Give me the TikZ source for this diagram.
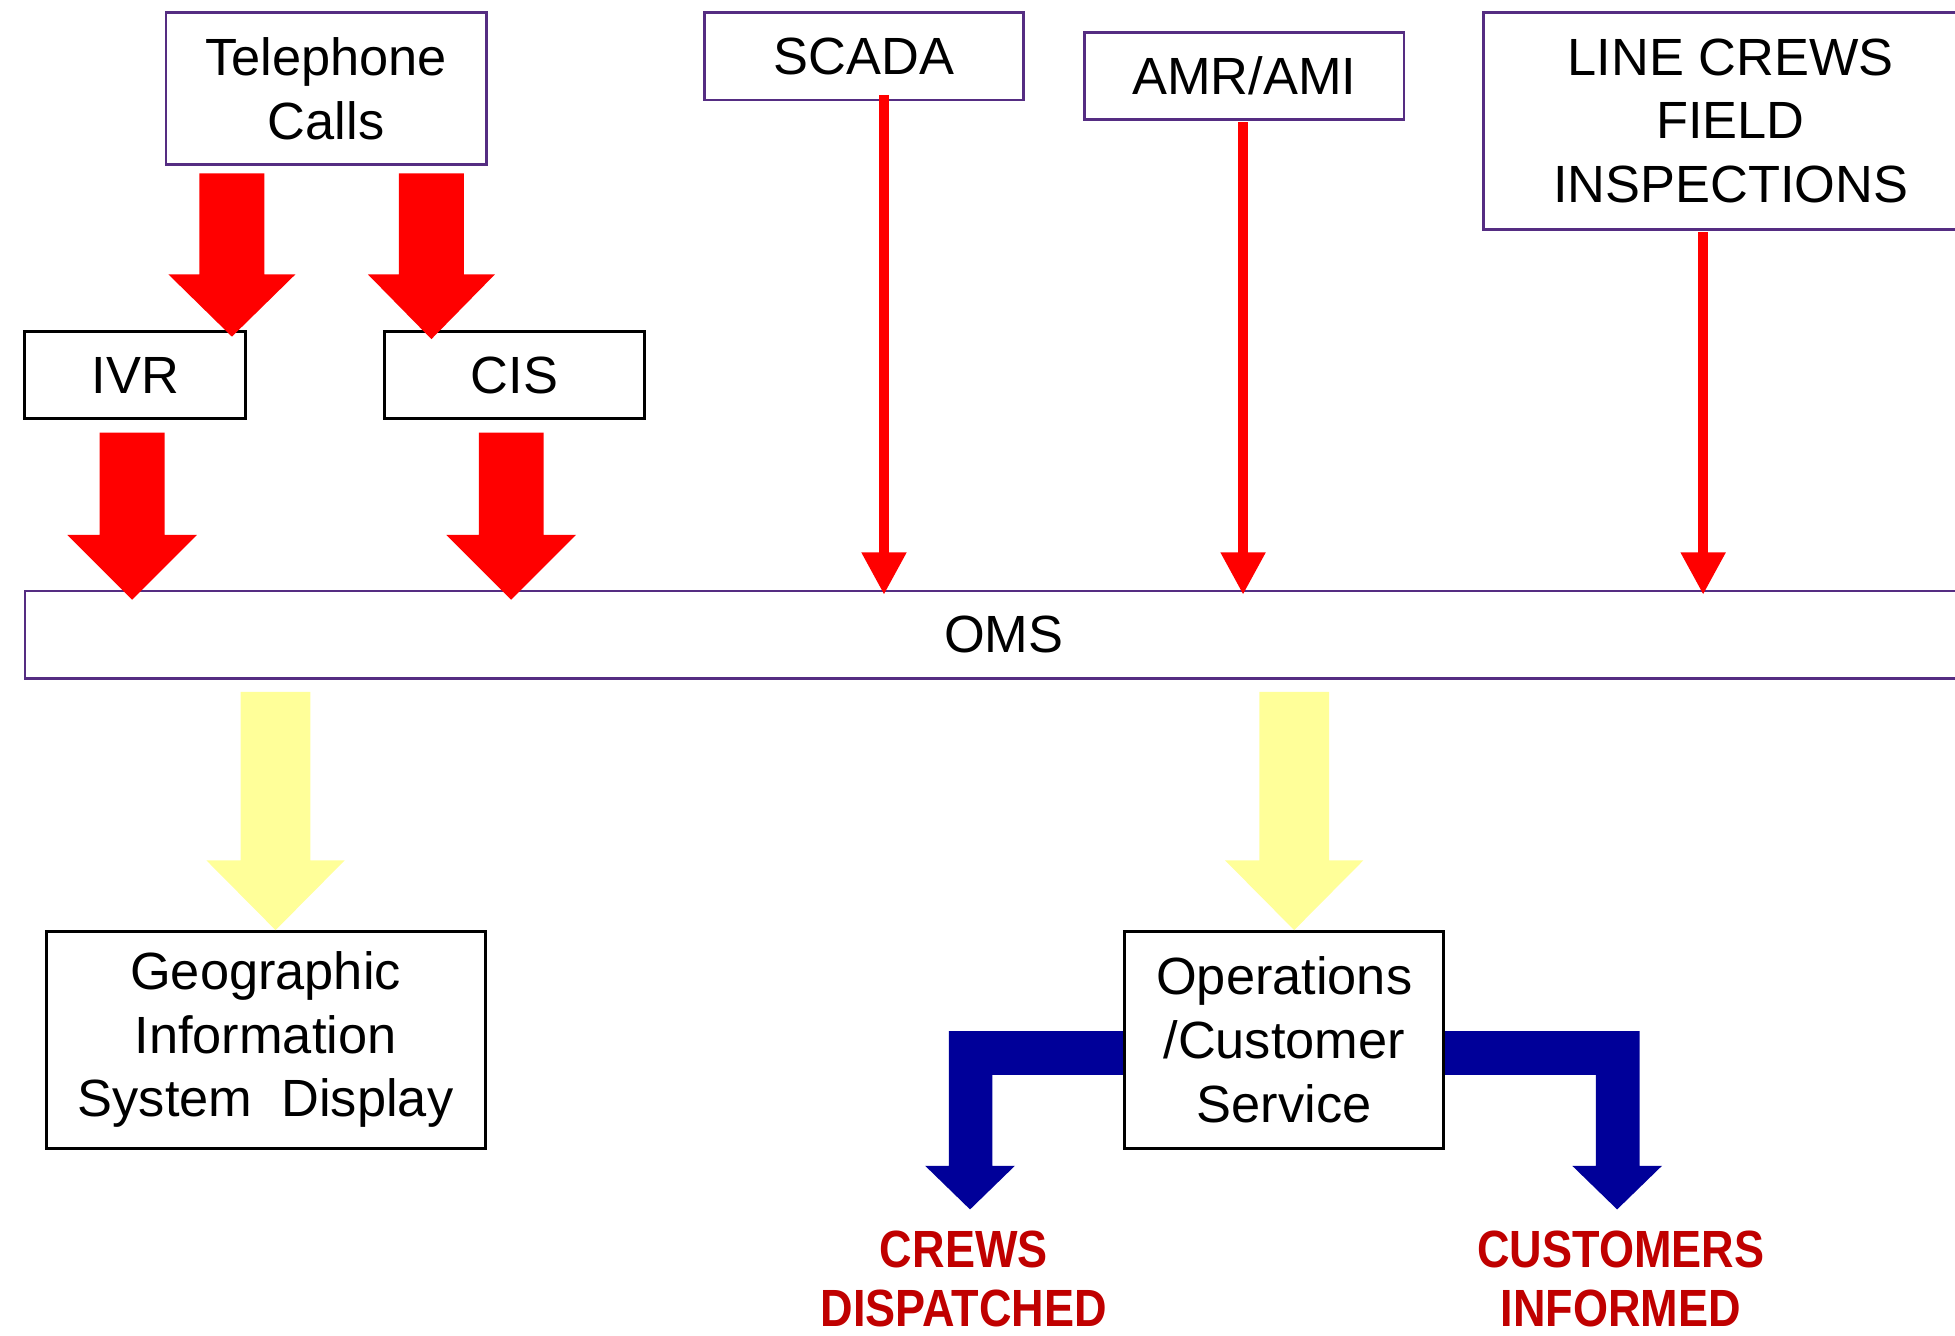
\documentclass[tikz,border=0pt]{standalone}
\usepackage{fontspec}
\setmainfont{Liberation Sans}
\usepackage{graphicx}
\usetikzlibrary{arrows.meta}
\definecolor{boxpurple}{RGB}{85,45,130}
\definecolor{flowred}{RGB}{255,0,0}
\definecolor{flowyellow}{RGB}{255,255,153}
\definecolor{flowblue}{RGB}{0,0,153}
\definecolor{labelred}{RGB}{192,0,0}
% x, ytop, yheadstart, ytip, shaft half width, head half width, style
\newcommand\blockdown[7]{%
  \fill[#7] (#1-#5,#2) -- (#1+#5,#2) -- (#1+#5,#3) -- (#1+#6,#3) -- (#1,#4)
    -- (#1-#6,#3) -- (#1-#5,#3) -- cycle;}
\newcommand\sq[1]{\scalebox{0.86}[1]{#1}}
\begin{document}
\begin{tikzpicture}[x=0.5pt,y=-0.5pt,
  pbox/.style={draw=boxpurple,line width=1pt,fill=white,inner sep=0pt,align=center,
    font=\fontsize{21}{25.5}\selectfont},
  kbox/.style={pbox,draw=black,line width=1.2pt},
  thinred/.style={draw=flowred,line width=4pt,shorten >=-2pt,-{Triangle[width=17pt,length=17pt]}},
  redblock/.style={fill=flowred},
  yellowblock/.style={fill=flowyellow},
  blueblock/.style={fill=flowblue},
  outlabel/.style={text=labelred,align=center,inner sep=0pt,font=\fontsize{21}{23.5}\selectfont\bfseries}]
\useasboundingbox (0,0) rectangle (1568,1071);
\clip (0,0) rectangle (1568,1071);

% boxes
\node[pbox,minimum width=128.5pt,minimum height=61pt] (tel) at (261.5,71) {Telephone\\Calls};
\node[pbox,minimum width=128pt,minimum height=35pt] (scada) at (693,45) {SCADA};
\node[pbox,minimum width=128pt,minimum height=35pt] (amr) at (998,61) {AMR/AMI};
\node[pbox,minimum width=198pt,minimum height=87pt] (line) at (1388,97) {LINE CREWS\\FIELD\\INSPECTIONS};
\node[kbox,minimum width=88.5pt,minimum height=35pt] (ivr) at (108.5,301) {IVR};
\node[kbox,minimum width=104.5pt,minimum height=35pt] (cis) at (412.5,301) {CIS};
\node[pbox,minimum width=785pt,minimum height=35pt] (oms) at (805,509) {OMS};

% blue elbow arrows (under the box)
\fill[blueblock] (902,827) -- (761,827) -- (761,935) -- (742,935) -- (778,970)
  -- (814,935) -- (796,935) -- (796,862) -- (902,862) -- cycle;
\fill[blueblock] (1158,827) -- (1315,827) -- (1315,935) -- (1333,935) -- (1297,970)
  -- (1261,935) -- (1280,935) -- (1280,862) -- (1158,862) -- cycle;

\node[kbox,minimum width=176pt,minimum height=87pt] (gis) at (213,834) {Geographic\\Information\\System\ \ Display};
\node[kbox,minimum width=128pt,minimum height=87pt] (ops) at (1030,834) {Operations\\/Customer\\Service};

% red block arrows
\blockdown{186}{139}{220}{270}{26}{51}{redblock}
\blockdown{346}{139}{220}{272}{26}{51}{redblock}
\blockdown{106}{347}{429}{481}{26}{52}{redblock}
\blockdown{410}{347}{429}{481}{26}{52}{redblock}

% thin red arrows
\coordinate (scadaout) at (709,76);
\coordinate (amrout) at (997,98);
\coordinate (lineout) at (1366,186);
\draw[thinred] (scadaout) -- (scadaout |- oms.north);
\draw[thinred] (amrout) -- (amrout |- oms.north);
\draw[thinred] (lineout) -- (lineout |- oms.north);

% yellow block arrows
\blockdown{221}{555}{690}{746}{28}{55.5}{yellowblock}
\blockdown{1038}{555}{690}{746}{28}{55.5}{yellowblock}

% outcome labels
\node[outlabel] (crewsd) at (773,1026) {\sq{CREWS}\\\sq{DISPATCHED}};
\node[outlabel] (custinf) at (1300,1026) {\sq{CUSTOMERS}\\\sq{INFORMED}};
\end{tikzpicture}
\end{document}
